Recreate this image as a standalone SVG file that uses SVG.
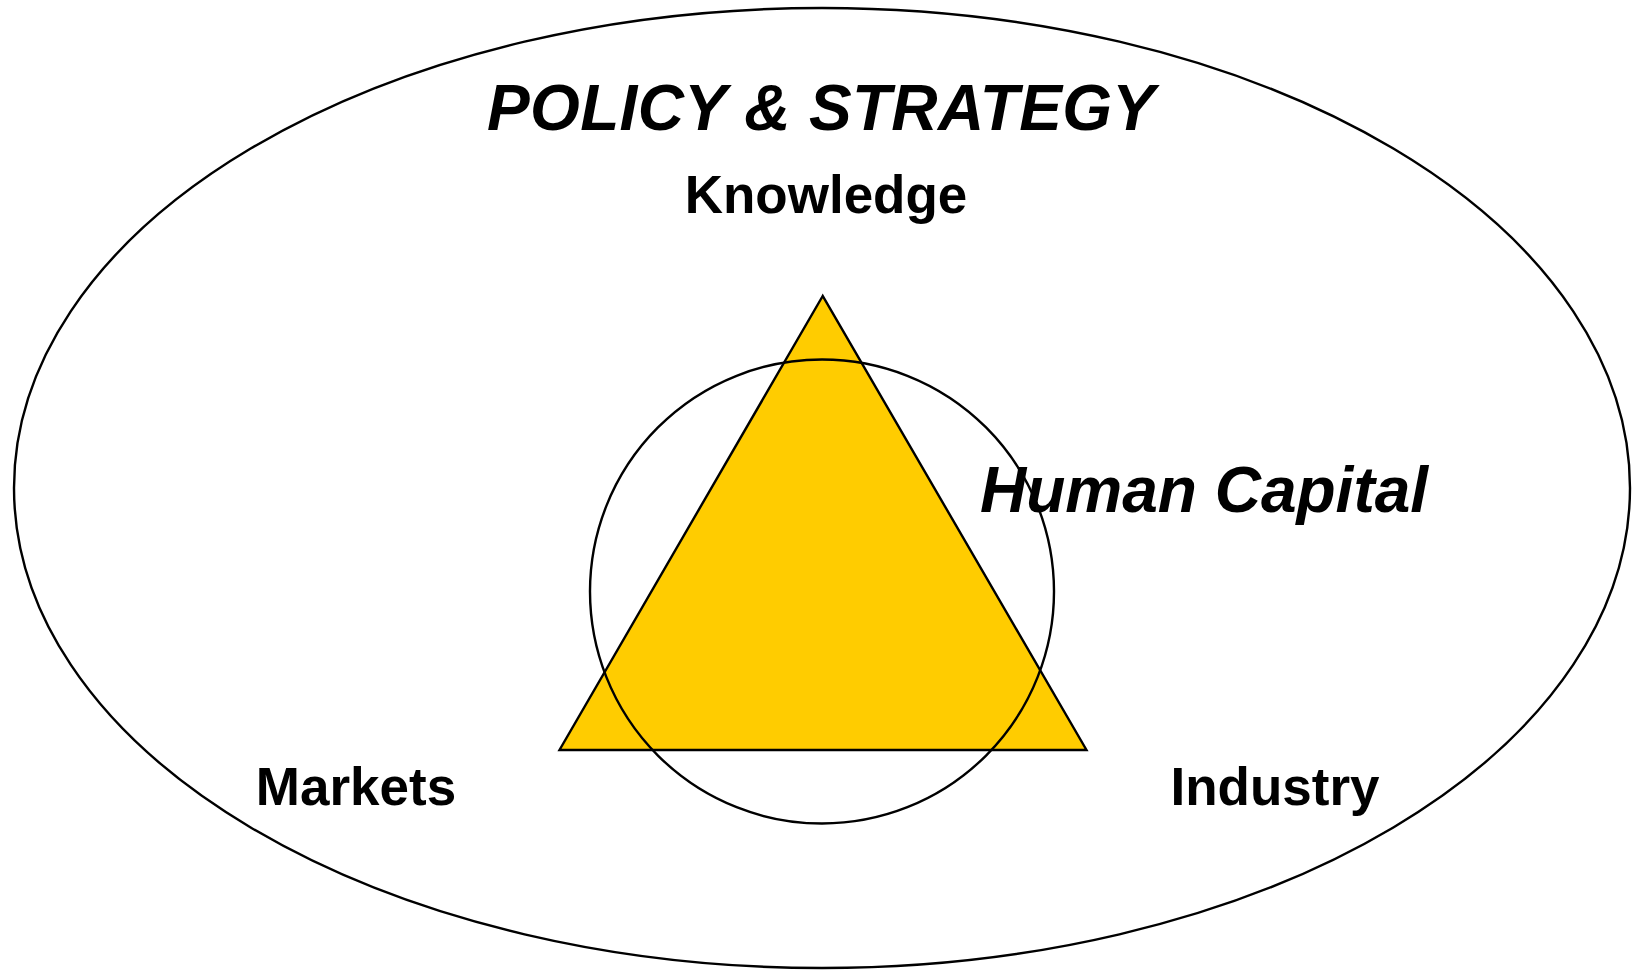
<svg xmlns="http://www.w3.org/2000/svg" width="1633" height="970" viewBox="0 0 1633 970">
<style>
.ln{fill:none;stroke:#000;stroke-width:2.4}
.t{font-family:"Liberation Sans",Arial,sans-serif;font-weight:bold;fill:#000}
.lbl{font-size:53px}
.it{font-size:64px;font-style:italic}
</style>
<rect width="1633" height="970" fill="#fff"/>
<g id="policy">
<ellipse class="ln" cx="822" cy="488" rx="808" ry="480"/>
<text class="t it" x="821" y="130" text-anchor="middle" textLength="668" lengthAdjust="spacing">POLICY &amp; STRATEGY</text>
</g>
<g id="triangle">
<polygon points="822.7,296 559.5,750 1086.5,750" fill="#FFCC00" stroke="#000" stroke-width="2.4"/>
</g>
<g id="human-capital">
<circle class="ln" cx="822" cy="591.5" r="232"/>
<text class="t it" x="980" y="512">Human Capital</text>
</g>
<g id="knowledge"><text class="t lbl" x="826" y="213" text-anchor="middle">Knowledge</text></g>
<g id="markets"><text class="t lbl" x="356" y="805" text-anchor="middle">Markets</text></g>
<g id="industry"><text class="t lbl" x="1275" y="805" text-anchor="middle">Industry</text></g>
<g id="connectors"/>
</svg>
